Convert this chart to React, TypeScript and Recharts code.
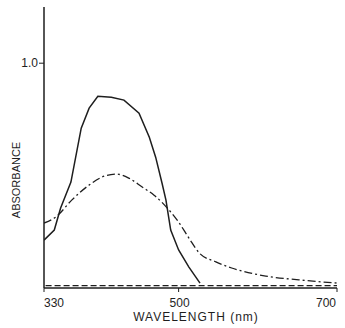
import React from 'react';
import { LineChart, Line, XAxis, YAxis } from 'recharts';

// Solid curve
const solidWavelengths = [330, 343, 351, 364, 377, 387, 398, 415, 431, 450, 463, 471, 479, 484, 490, 500, 513, 527];
const solidAbs = [0.213, 0.258, 0.356, 0.471, 0.711, 0.8, 0.853, 0.849, 0.836, 0.778, 0.671, 0.582, 0.467, 0.391, 0.258, 0.169, 0.093, 0.022];

// Dash-dot curve
const dashDotWavelengths = [330, 345, 365, 387, 403, 421, 437, 454, 469, 482, 500, 513, 526, 547, 567, 610, 652, 700];
const dashDotAbs = [0.289, 0.316, 0.391, 0.458, 0.493, 0.507, 0.489, 0.449, 0.413, 0.37, 0.293, 0.222, 0.156, 0.116, 0.089, 0.053, 0.036, 0.022];

// Dashed baseline curve
const dashedWavelengths = [332, 700];
const dashedAbs = [0.011, 0.011];

const xTicks = [330, 500, 700];
const yTicks = [1.0];

const toPoints = (xs: number[], ys: number[]) => xs.map((x, i) => ({ x, y: ys[i] }));

const solidData = toPoints(solidWavelengths, solidAbs);
const dashDotData = toPoints(dashDotWavelengths, dashDotAbs);
const dashedData = toPoints(dashedWavelengths, dashedAbs);

const FONT = '"Liberation Sans", Arial, sans-serif';
const INK = '#1e1e1e';

const XTick = (props: any) => {
  const { x, y, payload } = props;
  const v = payload.value;
  const anchor = v === 330 ? 'start' : v === 700 ? 'end' : 'middle';
  const dx = v === 330 ? 0 : v === 700 ? 3 : 1;
  return (
    <text x={x + dx} y={y + 13} textAnchor={anchor} fontFamily={FONT} fontSize={12} fill={INK}>
      {v}
    </text>
  );
};

const YTick = (props: any) => {
  const { x, y, payload } = props;
  return (
    <text x={x} y={y + 4} textAnchor="end" fontFamily={FONT} fontSize={12} fill={INK}>
      {Number(payload.value).toFixed(1)}
    </text>
  );
};

export default function App() {
  return (
    <div style={{ position: 'absolute', left: 0, top: 0, background: '#fff' }}>
      <LineChart width={345} height={328} data={solidData} margin={{ top: 7, right: 8, left: 0, bottom: 0 }}>
        <XAxis
          dataKey="x"
          type="number"
          domain={[330, 700]}
          ticks={xTicks}
          tick={<XTick />}
          tickSize={4}
          tickLine={{ stroke: INK }}
          axisLine={{ stroke: INK, strokeWidth: 1.5 }}
          height={40}
          allowDataOverflow
          label={{
            content: () => (
              <text x={196} y={321} textAnchor="middle" fontFamily={FONT} fontSize={12} letterSpacing={1} fill={INK}>
                WAVELENGTH (nm)
              </text>
            ),
          }}
        />
        <YAxis
          type="number"
          domain={[0, 1.25]}
          ticks={yTicks}
          tick={<YTick />}
          tickSize={5}
          tickMargin={1}
          tickLine={{ stroke: INK }}
          axisLine={{ stroke: INK, strokeWidth: 1.5 }}
          width={44}
          allowDataOverflow
          label={{
            content: () => (
              <text x={20} y={180} transform="rotate(-90 20 180)" textAnchor="middle" fontFamily={FONT} fontSize={11} fill={INK}>
                ABSORBANCE
              </text>
            ),
          }}
        />
        <Line data={solidData} dataKey="y" type="linear" stroke={INK} strokeWidth={1.5} dot={false} isAnimationActive={false} />
        <Line data={dashDotData} dataKey="y" type="monotone" stroke={INK} strokeWidth={1.3} strokeDasharray="8 3 2 3" dot={false} isAnimationActive={false} />
        <Line data={dashedData} dataKey="y" type="linear" stroke={INK} strokeWidth={1.3} strokeDasharray="6 3" dot={false} isAnimationActive={false} />
      </LineChart>
    </div>
  );
}
